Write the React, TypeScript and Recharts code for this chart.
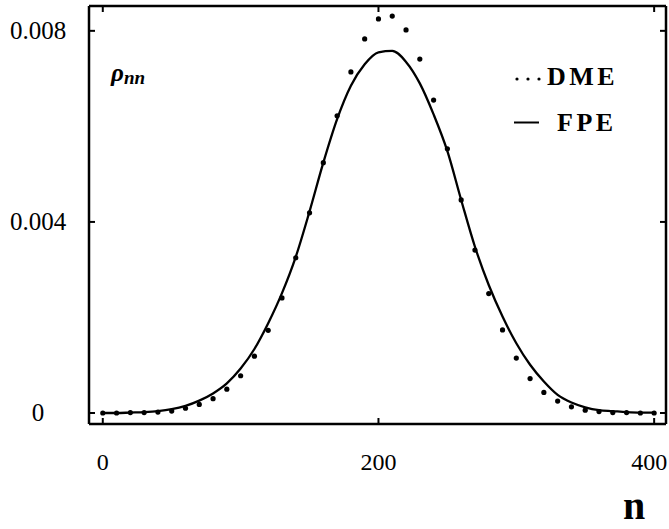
import { ComposedChart, Line, XAxis, YAxis } from "recharts";

// n = 0, 10, ..., 400
const nValues = [
  0, 10, 20, 30, 40, 50, 60, 70, 80, 90, 100, 110, 120, 130, 140, 150, 160,
  170, 180, 190, 200, 210, 220, 230, 240, 250, 260, 270, 280, 290, 300, 310,
  320, 330, 340, 350, 360, 370, 380, 390, 400,
];

// DME (dots)
const dmeValues = [
  0.0, 0.0, 0.00001, 0.00001, 0.00002, 0.00004, 0.0001, 0.00018, 0.0003,
  0.0005, 0.00078, 0.00119, 0.00173, 0.00241, 0.00325, 0.00419, 0.00524,
  0.00622, 0.00714, 0.00783, 0.00825, 0.00831, 0.00802, 0.00741, 0.00655,
  0.00553, 0.00446, 0.00341, 0.0025, 0.00174, 0.00115, 0.00072, 0.00043,
  0.00025, 0.00013, 0.00006, 0.00003, 0.00001, 0.00001, 0.0, 0.0,
];

// FPE (solid curve)
const fpeValues = [
  0.0, 0.0, 0.00001, 0.00002, 0.00004, 0.00008, 0.00015, 0.00026, 0.00041,
  0.00062, 0.00093, 0.00134, 0.00188, 0.00251, 0.00327, 0.00422, 0.00524,
  0.00615, 0.00685, 0.0073, 0.00755, 0.00758, 0.00735, 0.0069, 0.00625,
  0.00548, 0.00446, 0.00348, 0.00268, 0.00202, 0.00146, 0.00101, 0.00066,
  0.00038, 0.00022, 0.00012, 0.00006, 0.00004, 0.00002, 0.00001, 0.00001,
];

const xTicks = [0, 200, 400];
const yTicks = [0, 0.004, 0.008];
const yTickLabels: Record<number, string> = { 0: "0", 0.004: "0.004", 0.008: "0.008" };

const data = nValues.map((n, i) => ({ n, dme: dmeValues[i], fpe: fpeValues[i] }));

const FONT = '"Liberation Serif", "DejaVu Serif", serif';
const X_DOMAIN = [-10, 408.6];
const Y_DOMAIN = [-0.00023, 0.00852];

const BottomTick = (props: any) => {
  const { x, y, payload } = props;
  const last = payload.value === 400;
  return (
    <g>
      <line x1={x} x2={x} y1={y} y2={y - 6} stroke="#000" strokeWidth={2} />
      <text
        x={last ? x + 13 : x}
        y={y + 46}
        textAnchor={last ? "end" : "middle"}
        fontFamily={FONT}
        fontSize={24}
        fill="#000"
      >
        {payload.value}
      </text>
    </g>
  );
};

const TopTick = (props: any) => {
  const { x, y } = props;
  return <line x1={x} x2={x} y1={y} y2={y + 6} stroke="#000" strokeWidth={2} />;
};

const LeftTick = (props: any) => {
  const { x, y, payload } = props;
  return (
    <g>
      <line x1={x} x2={x + 6} y1={y} y2={y} stroke="#000" strokeWidth={2} />
      <text x={x - 51} y={y + 8} textAnchor="middle" fontFamily={FONT} fontSize={25} fill="#000">
        {yTickLabels[payload.value] ?? payload.value}
      </text>
    </g>
  );
};

const RightTick = (props: any) => {
  const { x, y } = props;
  return <line x1={x} x2={x - 6} y1={y} y2={y} stroke="#000" strokeWidth={2} />;
};

const axisLine = { stroke: "#000", strokeWidth: 2.5 };

export default function App() {
  return (
    <div style={{ position: "absolute", left: 0, top: 0, width: 669, height: 529, background: "#fff" }}>
      <ComposedChart
        width={669}
        height={529}
        data={data}
        margin={{ top: 5, right: 2, bottom: 0, left: 0 }}
      >
        <XAxis
          dataKey="n"
          type="number"
          domain={X_DOMAIN}
          allowDataOverflow
          ticks={xTicks}
          height={105}
          tickSize={0}
          tickMargin={0}
          tickLine={false}
          axisLine={axisLine}
          tick={<BottomTick />}
        />
        <XAxis
          xAxisId="top"
          orientation="top"
          dataKey="n"
          type="number"
          domain={X_DOMAIN}
          allowDataOverflow
          ticks={xTicks}
          height={1}
          tickSize={0}
          tickMargin={0}
          tickLine={false}
          axisLine={axisLine}
          tick={<TopTick />}
        />
        <YAxis
          type="number"
          domain={Y_DOMAIN}
          allowDataOverflow
          ticks={yTicks}
          width={89}
          tickSize={0}
          tickMargin={0}
          tickLine={false}
          axisLine={axisLine}
          tick={<LeftTick />}
        />
        <YAxis
          yAxisId="right"
          orientation="right"
          type="number"
          domain={Y_DOMAIN}
          allowDataOverflow
          ticks={yTicks}
          width={1}
          tickSize={0}
          tickMargin={0}
          tickLine={false}
          axisLine={axisLine}
          tick={<RightTick />}
        />
        <Line
          dataKey="fpe"
          type="monotone"
          stroke="#000"
          strokeWidth={2.3}
          dot={false}
          isAnimationActive={false}
        />
        <Line
          dataKey="dme"
          xAxisId="top"
          yAxisId="right"
          stroke="none"
          dot={{ r: 2.6, fill: "#000", stroke: "none" }}
          isAnimationActive={false}
        />
      </ComposedChart>
      <svg
        width={669}
        height={529}
        style={{ position: "absolute", left: 0, top: 0, pointerEvents: "none" }}
      >
        <text x={111} y={81} fontFamily={FONT} fontStyle="italic" fontWeight="bold" fontSize={25} fill="#000">
          ρ
          <tspan fontSize={19} dy={2.5}>nn</tspan>
        </text>
        <circle cx={517} cy={79} r={1.6} fill="#000" />
        <circle cx={528} cy={79} r={1.6} fill="#000" />
        <circle cx={539} cy={79} r={1.6} fill="#000" />
        <text x={547} y={85} fontFamily={FONT} fontWeight="bold" fontSize={26} letterSpacing={3.5} fill="#000">
          DME
        </text>
        <line x1={514} x2={539} y1={122.5} y2={122.5} stroke="#000" strokeWidth={2} />
        <text x={557} y={131} fontFamily={FONT} fontWeight="bold" fontSize={26} letterSpacing={3.5} fill="#000">
          FPE
        </text>
        <text x={634} y={519} textAnchor="middle" fontFamily={FONT} fontWeight="bold" fontSize={40} fill="#000">
          n
        </text>
      </svg>
    </div>
  );
}
